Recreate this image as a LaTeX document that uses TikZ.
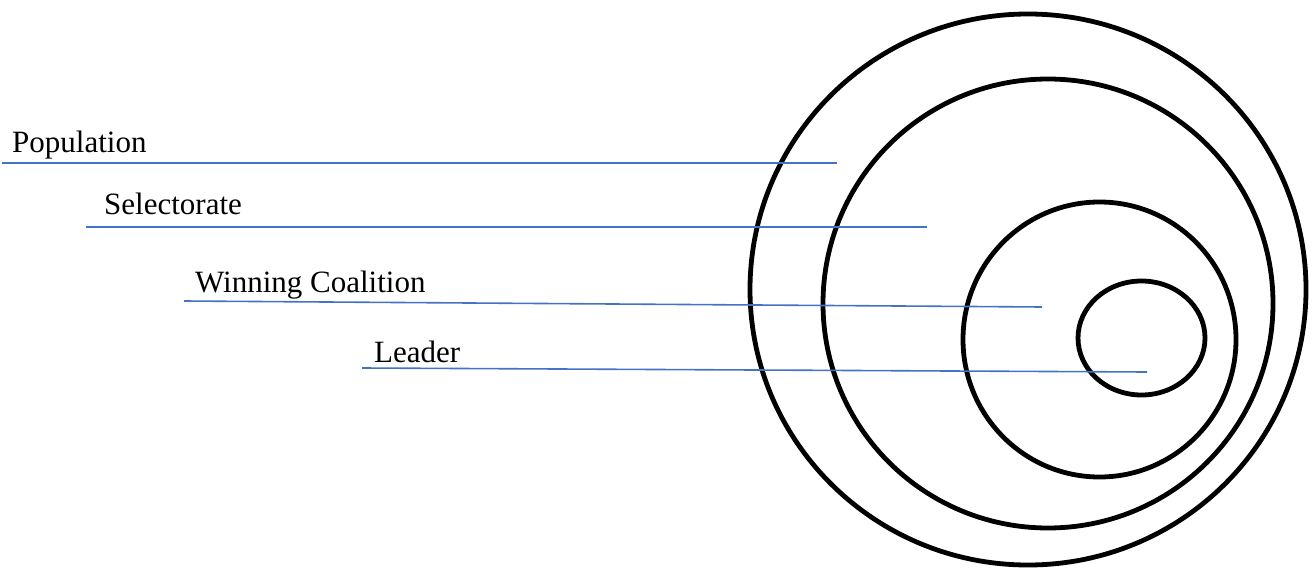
\documentclass[tikz,border=0pt]{standalone}
\usepackage{fontspec}
\setmainfont{Liberation Serif}
\usetikzlibrary{positioning}
\definecolor{guide}{HTML}{4472C4}
\tikzset{
  ring/.style={draw=black,line width=4.8pt},
  tag/.style={anchor=base west,inner sep=0pt,font=\fontsize{31}{37}\selectfont},
  pointer/.style={draw=guide,line width=1.6pt},
}

\begin{document}
\begin{tikzpicture}[x=1pt,y=-1pt]
  \useasboundingbox (0,0) rectangle (1313,567);
  % nested groups, widest first
  \draw[ring] (1028,289.5) ellipse [x radius=278,y radius=275.5];
  \draw[ring] (1048,303.5) ellipse [x radius=225,y radius=224.5];
  \draw[ring] (1099.5,339.5) ellipse [x radius=136.5,y radius=137.5];
  \draw[ring] (1141.5,338) ellipse [x radius=63.5,y radius=57];
  % labels
  \node[tag] (population) at (12,152) {Population};
  \node[tag] (selectorate) at (104,214) {Selectorate};
  \node[tag] (coalition) at (195,292) {Winning Coalition};
  \node[tag] (leader) at (374,362) {Leader};
  % pointer ends
  \coordinate (populationA) at (2,163);
  \coordinate (populationB) at (837,163);
  \coordinate (selectorateA) at (86,227);
  \coordinate (selectorateB) at (927,227);
  \coordinate (coalitionA) at (184,301);
  \coordinate (coalitionB) at (1042,307);
  \coordinate (leaderA) at (362,368);
  \coordinate (leaderB) at (1147,372);
  \foreach \n in {population,selectorate,coalition,leader}
    \draw[pointer] (\n A) -- (\n B);
\end{tikzpicture}
\end{document}
